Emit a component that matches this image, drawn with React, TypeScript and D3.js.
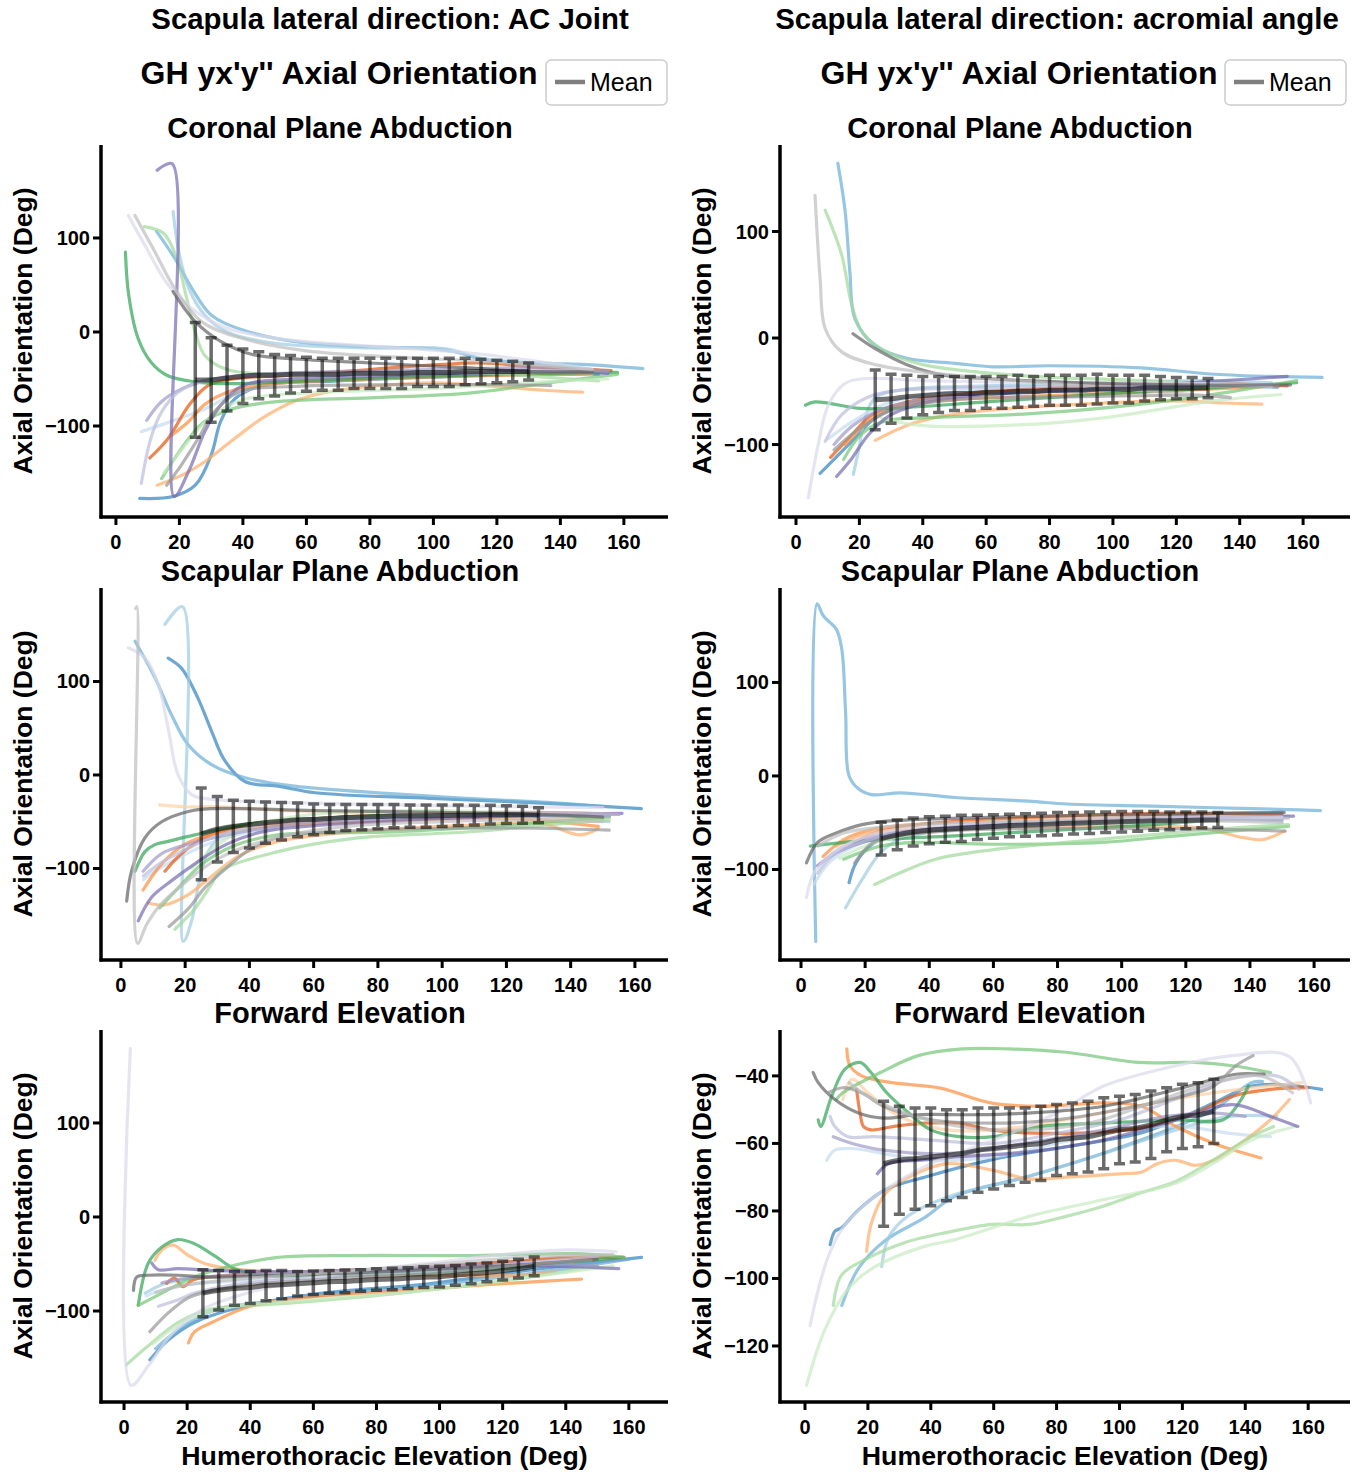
import React from 'react';
import * as d3 from 'd3';

type Pt = [number, number];
type Trace = { s: number; pts: Pt[] };

// tab20c, one colour per subject
const subjectColors = [
  '#3182bd', '#6baed6', '#9ecae1', '#c6dbef',
  '#e6550d', '#fd8d3c', '#fdae6b', '#fdd0a2',
  '#31a354', '#74c476', '#a1d99b', '#c7e9c0',
  '#756bb1', '#9e9ac8', '#bcbddc', '#dadaeb',
  '#636363', '#969696', '#bdbdbd', '#d9d9d9',
];

const meanAngles = [25, 30, 35, 40, 45, 50, 55, 60, 65, 70, 75, 80, 85, 90, 95, 100, 105, 110, 115, 120, 125, 130];
const xTicks = [0, 20, 40, 60, 80, 100, 120, 140, 160];
const yTicksWide = [-100, 0, 100];
const yTicksNarrow = [-120, -100, -80, -60, -40];

// ---- Coronal plane abduction, AC joint
const coronalAcTraces: Trace[] = [
  { s: 0, pts: [[7.5, -177], [18, -175], [25, -163], [30, -131], [33, -95], [37.5, -71], [46, -57], [70, -52], [100, -48], [130, -45], [152, -45]] },
  { s: 1, pts: [[12.8, 107], [18.6, 78], [24, 46], [30, 18], [40, 2], [56, -10], [75, -15], [100, -18], [108, -22], [115, -29], [135, -33], [150, -35], [166, -39]] },
  { s: 2, pts: [[18, 128], [20, 82], [23, 46], [28, 18], [35, 0], [50, -12], [80, -17], [104, -18], [115, -28], [140, -36], [156, -42]] },
  { s: 3, pts: [[8, -106], [15, -98], [20, -92], [28, -82], [36, -68], [50, -55], [80, -50], [120, -44], [150, -45]] },
  { s: 4, pts: [[10.7, -134], [16.5, -113], [23, -78], [29, -57], [37, -50], [55, -46], [80, -40], [100, -35], [115, -33], [135, -38], [156, -41]] },
  { s: 5, pts: [[17.5, -110], [23, -95], [28, -77], [36, -63], [50, -55], [80, -50], [110, -47], [150, -44]] },
  { s: 6, pts: [[13, -163], [21, -152], [28, -138], [37.5, -113], [46, -92], [56, -74], [65, -65], [80, -58], [100, -54], [120, -58], [135, -62], [147, -64]] },
  { s: 8, pts: [[3, 85], [4, 40], [7, -7], [11, -32], [16, -46], [25, -53], [35, -55], [60, -52], [90, -48], [120, -45], [158, -43]] },
  { s: 9, pts: [[14.4, -156], [18.6, -134], [23, -113], [28, -95], [37.5, -81], [51, -74], [80, -70], [111, -65], [134, -55], [158, -45]] },
  { s: 10, pts: [[9, 112], [15, 105], [19, 80], [22, 40], [25, 0], [28, -25], [35, -40], [50, -45], [80, -44], [110, -43], [135, -48], [152, -52]] },
  { s: 11, pts: [[15, -150], [22, -120], [30, -90], [40, -72], [60, -65], [100, -60], [140, -52], [155, -50]] },
  { s: 12, pts: [[13, 172], [17.7, 179], [18.3, -175], [22.8, -149], [28, -106], [33, -78], [40, -57], [55, -50], [80, -47], [110, -44], [140, -42], [155, -44]] },
  { s: 13, pts: [[9.7, -94], [14.4, -74], [21, -60], [29, -51], [40, -46], [70, -42], [100, -40], [130, -38], [155, -42]] },
  { s: 14, pts: [[8, -161], [11, -113], [14.4, -85], [19.6, -64], [28, -52], [40, -47], [70, -45], [110, -43], [150, -40]] },
  { s: 15, pts: [[3.9, 124], [9, 93], [16.5, 50], [25, 22], [35, 4], [51, -7], [80, -15], [110, -22], [130, -30], [150, -40]] },
  { s: 16, pts: [[18, 43], [25, 11], [33, -10], [43, -24], [58, -29], [80, -33], [110, -38], [130, -42], [150, -42]] },
  { s: 17, pts: [[16, -163], [20.7, -141], [26, -113], [31, -85], [38.5, -64], [55, -58], [90, -56], [120, -56], [137, -57]] },
  { s: 18, pts: [[6, 124], [12.3, 85], [18.6, 46], [27, 11], [40, -7], [60, -20], [90, -27], [120, -32], [150, -40]] },
];
const coronalAcMean = [-51, -51, -49, -47, -46, -46, -45, -45, -45, -45, -44, -44, -44, -44, -43, -43, -43, -42, -42, -42, -42, -42];
const coronalAcSd = [61, 45, 35, 29, 25, 22, 20, 18, 17, 17, 16, 16, 16, 16, 15, 15, 15, 14, 13, 12, 11, 9];

// ---- Coronal plane abduction, acromial angle
const coronalAaTraces: Trace[] = [
  { s: 0, pts: [[7.6, -127], [12.3, -113], [18.6, -94], [25, -75], [35, -62], [50, -55], [80, -50], [110, -47], [135, -45], [152, -46]] },
  { s: 1, pts: [[13.2, 164], [15.5, 119], [17, 62], [18.6, 18], [25, -7], [35, -19], [51, -24], [62, -27], [80, -26], [109, -28], [132, -34], [166, -37]] },
  { s: 2, pts: [[18.1, -128], [19.7, -106], [21.8, -75], [25, -56], [35, -48], [60, -45], [100, -42], [130, -40], [150, -42]] },
  { s: 3, pts: [[10, -95], [18, -78], [28, -62], [45, -52], [80, -48], [120, -45], [150, -46]] },
  { s: 4, pts: [[10.9, -112], [16.7, -94], [24, -72], [35, -60], [55, -52], [80, -47], [105, -43], [125, -42], [155, -45]] },
  { s: 5, pts: [[15.5, -100], [20.7, -84], [28, -68], [40, -60], [70, -55], [100, -52], [130, -48], [153, -45]] },
  { s: 6, pts: [[25, -96], [35, -82], [45, -74], [60, -68], [90, -62], [120, -59], [135, -61], [147, -62]] },
  { s: 8, pts: [[3, -63], [6, -60], [20, -66], [30, -66], [60, -60], [100, -52], [130, -47], [158, -42]] },
  { s: 9, pts: [[15, -114], [20.7, -90], [28, -78], [40, -75], [74, -71], [109, -62], [138, -50], [158, -40]] },
  { s: 10, pts: [[9.2, 120], [14.4, 78], [17.6, 31], [21, 5], [28, -12], [40, -25], [70, -35], [110, -40], [150, -45]] },
  { s: 11, pts: [[27, -75], [39, -82], [74, -81], [97, -75], [132, -59], [153, -53]] },
  { s: 12, pts: [[12.8, -130], [17.6, -113], [22.8, -91], [30, -72], [45, -58], [80, -50], [110, -45], [135, -40], [155, -36]] },
  { s: 13, pts: [[12, -100], [18, -82], [28, -66], [45, -56], [80, -50], [120, -46], [150, -45]] },
  { s: 14, pts: [[9.2, -97], [14.4, -72], [22.3, -56], [30, -50], [50, -47], [90, -45], [130, -43], [152, -44]] },
  { s: 15, pts: [[3.9, -150], [7, -100], [10.2, -63], [15.5, -42.5], [22, -38], [40, -40], [80, -42], [120, -42], [150, -45]] },
  { s: 16, pts: [[18, 4], [25, -10], [35, -25], [47, -35], [60, -38], [90, -42], [120, -44], [156, -44]] },
  { s: 17, pts: [[12, -105], [20, -85], [30, -68], [50, -58], [90, -55], [130, -54], [137, -56]] },
  { s: 18, pts: [[6, 134], [7.6, 56], [9.2, 9], [14.4, -13], [25, -25], [40, -32], [70, -40], [100, -47], [137, -56]] },
];
const coronalAaMean = [-58, -57, -55, -54, -53, -52, -52, -51, -51, -50, -50, -49, -49, -49, -48, -48, -48, -47, -47, -47, -47, -47];
const coronalAaSd = [28, 23, 20, 18, 17, 16, 16, 15, 15, 15, 14, 14, 14, 14, 14, 13, 13, 12, 11, 10, 10, 9];

// ---- Scapular plane abduction, AC joint
const scapularAcTraces: Trace[] = [
  { s: 0, pts: [[14.7, 125], [18.9, 114], [24, 82], [28.2, 47], [32.4, 15], [38.6, -7], [49, -12], [60.5, -19], [96, -25], [131, -30], [162, -36]] },
  { s: 1, pts: [[4.4, 143], [10.6, 104], [15.8, 64], [21, 32], [28.2, 11], [38.6, -3], [54, -12], [84, -20], [107.5, -25], [131, -29], [152, -34]] },
  { s: 2, pts: [[13.7, 161], [19.2, 180], [19.4, -178], [22, -156], [24, -120], [27, -83], [33, -60], [50, -50], [90, -46], [130, -45], [152, -50]] },
  { s: 3, pts: [[7, -112], [12, -100], [20, -85], [30, -70], [50, -55], [90, -47], [130, -43], [150, -45]] },
  { s: 4, pts: [[13.7, -103], [18.9, -84], [26, -67], [36, -56], [60, -47], [90, -42], [120, -40], [155, -42]] },
  { s: 5, pts: [[6.9, -123], [12.7, -95], [20, -74], [28, -64], [45, -55], [80, -50], [120, -46], [148.6, -55]] },
  { s: 6, pts: [[8.5, -137], [13.7, -139], [21, -128], [26.6, -113], [37, -86], [49, -71], [72, -61], [107.5, -54], [131, -52], [143, -64], [148.6, -57]] },
  { s: 7, pts: [[12, -32], [20, -34], [30, -34], [50, -38], [80, -42], [120, -45], [150, -48]] },
  { s: 8, pts: [[4.4, -103], [7.5, -82], [10.6, -74.5], [14.7, -71], [23, -64], [40, -52], [70, -45], [110, -42], [152, -45]] },
  { s: 9, pts: [[12.1, -142], [17.8, -121], [25, -96], [35, -76], [48.8, -64], [84, -61], [119, -54], [152, -45]] },
  { s: 10, pts: [[16.8, -165], [23, -143], [28, -118], [31, -103], [48.8, -82], [72, -68], [107.5, -61], [131, -54], [152, -48]] },
  { s: 11, pts: [[22, -100], [30, -75], [40, -55], [60, -42], [90, -38], [120, -40], [152, -45]] },
  { s: 12, pts: [[5.4, -156], [9.5, -131], [15.8, -113], [23, -95], [33, -74], [45, -60], [80, -50], [120, -44], [156, -41]] },
  { s: 13, pts: [[6.9, -103], [12.7, -84], [21, -74], [33, -64], [55, -52], [90, -46], [130, -43], [152, -44]] },
  { s: 14, pts: [[7, -108], [12, -95], [20, -80], [30, -65], [50, -50], [90, -43], [130, -40], [155, -42]] },
  { s: 15, pts: [[2.3, 136], [7.5, 125], [11.6, 97], [14.7, 50], [17.8, 0], [22, -21], [28, -26], [60, -30], [100, -33], [150, -35]] },
  { s: 16, pts: [[1.8, -135], [3.3, -103], [7.5, -67], [12.7, -50], [21, -39], [28, -36], [60, -38], [100, -40], [130, -42], [150, -45]] },
  { s: 17, pts: [[15, -162], [21, -143], [26, -121], [33, -99], [40, -80], [50, -66], [70, -60], [100, -57], [130, -57], [152, -59]] },
  { s: 18, pts: [[4.6, 178], [5, 180], [5.2, -180], [8, -160], [12, -140], [20, -115], [30, -90], [45, -70], [70, -55], [100, -50], [130, -48], [150, -50]] },
];
const scapularAcMean = [-63, -58, -55, -53, -51, -49.5, -48, -47.5, -46.5, -45.5, -45, -44.5, -44, -44, -44, -43.5, -43, -43, -42.5, -42.5, -42.5, -43];
const scapularAcSd = [49, 35, 28, 25, 22, 20, 18, 16.5, 15, 14, 13.5, 13, 12.5, 12, 12, 11.5, 11, 10.5, 10, 9.5, 9, 8];

// ---- Scapular plane abduction, acromial angle
const scapularAaTraces: Trace[] = [
  { s: 0, pts: [[15, -114], [16.7, -96], [20.2, -79], [27, -64], [40, -57], [70, -50], [100, -45], [130, -40], [150, -40]] },
  { s: 1, pts: [[4.6, -177], [5, 184], [7, 171], [11, 157], [12.7, 136], [13.9, 68], [15, 0], [18, -14], [22, -20], [31, -18], [48, -23], [71, -27], [83, -30], [106, -32], [129, -34], [152, -36], [162, -37]] },
  { s: 2, pts: [[13.9, -141], [19, -111], [24.8, -82], [30.6, -68], [45, -58], [80, -50], [120, -46], [150, -45]] },
  { s: 3, pts: [[4, -116], [8.7, -93], [15, -78], [25, -65], [45, -55], [80, -50], [120, -47], [150, -47]] },
  { s: 4, pts: [[16.7, -71], [22, -62], [30, -55], [50, -48], [80, -43], [110, -40], [130, -40], [150, -42]] },
  { s: 5, pts: [[6.9, -86], [13.3, -68], [22.5, -57], [35, -52], [60, -48], [100, -45], [130, -44], [152, -44]] },
  { s: 6, pts: [[11, -75], [20, -62], [35, -57], [60, -55], [100, -54], [125, -56], [138, -66], [144, -68], [150.7, -59]] },
  { s: 8, pts: [[2.9, -75], [13.3, -71], [24.8, -68], [48, -64], [80, -58], [110, -52], [130, -47], [150, -45]] },
  { s: 9, pts: [[13.3, -89], [24.8, -75], [36, -71], [59.5, -73], [94, -71], [117, -64], [152, -54]] },
  { s: 10, pts: [[23, -116], [30.6, -104], [42, -89], [59.5, -79], [82.6, -71], [105.7, -64], [128.8, -57], [152, -52]] },
  { s: 11, pts: [[12, -88], [20, -75], [35, -62], [60, -55], [100, -50], [130, -47], [152, -43]] },
  { s: 12, pts: [[5.2, -96], [11, -82], [19, -71], [30, -62], [55, -54], [90, -48], [125, -44], [153.6, -43]] },
  { s: 13, pts: [[6.4, -93], [12, -78], [20, -67], [35, -58], [60, -52], [100, -48], [130, -46], [150, -48]] },
  { s: 14, pts: [[5.2, -104], [10, -85], [18, -72], [30, -62], [55, -55], [90, -50], [130, -47], [152, -45]] },
  { s: 15, pts: [[1.7, -130], [4, -104], [8.7, -86], [15.6, -71], [25, -60], [45, -52], [80, -47], [120, -44], [150, -44]] },
  { s: 16, pts: [[1.7, -93], [5.2, -71], [11, -61], [19, -52], [28, -48], [50, -45], [90, -42], [130, -40], [150.7, -39]] },
  { s: 17, pts: [[16.7, -93], [22.5, -71], [30.6, -64], [50, -58], [90, -56], [130, -57], [151, -59]] },
  { s: 18, pts: [[5.2, -75], [13.3, -61], [25, -55], [50, -50], [90, -48], [130, -48], [150, -50]] },
];
const scapularAaMean = [-67, -63, -60, -58, -57, -56, -55, -54, -53, -52.5, -52, -51, -50.5, -50, -49.5, -49, -48.5, -48, -48, -47.5, -47, -47];
const scapularAaSd = [17.5, 16, 15, 14.5, 14, 14, 13, 12.5, 12, 12, 12, 12, 11.5, 11.5, 11, 11, 10.5, 10, 9.5, 9, 8.5, 8];

// ---- Forward elevation, AC joint
const forwardAcTraces: Trace[] = [
  { s: 0, pts: [[8.2, -152], [14, -131], [22.4, -112], [36.8, -96], [60.7, -82], [96.5, -71], [132, -55], [164, -43]] },
  { s: 1, pts: [[10, -140], [18, -118], [28, -100], [50, -88], [80, -78], [110, -68], [140, -55], [160, -45]] },
  { s: 2, pts: [[6.7, -81], [12, -72], [20, -66], [40, -62], [60, -60], [90, -55], [120, -48], [150, -43]] },
  { s: 3, pts: [[7, -84], [12, -78], [20, -72], [35, -68], [60, -63], [90, -57], [120, -50], [150, -43]] },
  { s: 4, pts: [[13.5, -70.6], [16, -65], [18.6, -74], [21.8, -67], [32.6, -62], [60, -58], [90, -54], [120, -48], [140, -43], [158.5, -43]] },
  { s: 5, pts: [[20.4, -134], [22.4, -122], [28, -112], [40, -95], [60, -85], [90, -78], [115, -72], [135, -68], [145, -66]] },
  { s: 6, pts: [[9.8, -46], [12, -35], [15.6, -30], [20, -40], [26, -50], [40, -57], [70, -62], [100, -62], [125, -62], [136.5, -58]] },
  { s: 8, pts: [[4.5, -94], [7.7, -49], [12, -32], [17, -24], [22, -28], [29, -42], [35, -55], [44, -62], [60, -62], [90, -60], [120, -55], [145, -47], [158, -43]] },
  { s: 9, pts: [[4.5, -94], [12, -81], [22, -64], [33, -53], [48.7, -43], [72.6, -41], [108, -41], [144, -39], [158.5, -43]] },
  { s: 10, pts: [[0.8, -157], [7.7, -137], [17.2, -112], [27.6, -98], [48.7, -92.5], [84.5, -82], [120, -68], [150, -52]] },
  { s: 11, pts: [[9, -135], [20, -110], [35, -95], [60, -88], [90, -80], [120, -68], [155, -52]] },
  { s: 12, pts: [[8.8, -49], [10.9, -56], [17, -55], [30, -57], [60, -58], [100, -55], [130, -52], [156.8, -55]] },
  { s: 13, pts: [[12, -70], [20, -65], [35, -62], [60, -58], [90, -54], [120, -50], [150, -52]] },
  { s: 14, pts: [[10.9, -95], [17.2, -88], [22.4, -81], [35, -72], [60, -64], [100, -57], [130, -48], [150, -42]] },
  { s: 15, pts: [[2, 179], [2.2, -179], [8, -157], [15, -125], [25, -98], [40, -80], [60, -65], [80, -55], [100, -48], [120, -40], [140, -35], [156, -37]] },
  { s: 16, pts: [[3, -78], [4, -64], [7.7, -62], [17, -62], [27.6, -64], [50, -62], [90, -57], [120, -52], [150, -45]] },
  { s: 17, pts: [[8.2, -122], [14, -102], [20.3, -86], [24.5, -81], [40, -72], [70, -65], [100, -60], [130, -50], [148, -46]] },
  { s: 18, pts: [[10, -80], [20, -72], [40, -65], [70, -58], [100, -50], [130, -42], [155, -40]] },
];
const forwardAcMean = [-81, -78, -76, -75, -73, -72, -71, -70, -69, -68.5, -67.5, -66.5, -66, -65, -64, -63.5, -62, -60.5, -59, -57, -55, -52.5];
const forwardAcSd = [25, 21, 18, 17, 16, 15, 13, 12.5, 12, 12, 11.5, 11.5, 11.5, 11, 11, 11, 10.5, 10.5, 10, 10, 10, 10];

// ---- Forward elevation, acromial angle
const forwardAaTraces: Trace[] = [
  { s: 0, pts: [[8, -90], [9.5, -86], [11.6, -85], [17, -79.7], [25.4, -73.8], [38, -70], [59.5, -64.8], [83, -61], [106.6, -57], [118, -53], [130, -48], [142, -43], [153.7, -42.7], [164.3, -44]] },
  { s: 1, pts: [[11.7, -108], [17, -97], [25.4, -88.8], [38, -82], [47.7, -75.7], [71, -69.8], [94.8, -62.9], [118, -55], [130, -50], [142, -42], [145.5, -41.7]] },
  { s: 2, pts: [[24.4, -96.5], [26.5, -88], [32, -82], [45, -76], [70, -70], [95, -63], [118, -56], [135, -52], [150, -52]] },
  { s: 3, pts: [[6.9, -65], [9.5, -62], [14.8, -61.5], [25, -63], [40, -65], [60, -64], [80, -60], [100, -56], [120, -55], [135, -57], [148, -58]] },
  { s: 4, pts: [[16.4, -44], [17.5, -51], [18.6, -55], [21, -56], [28, -55], [38, -54], [49, -54], [59, -56], [83, -57], [106, -55.5], [124, -51], [136, -46], [148, -44], [160, -43.5]] },
  { s: 5, pts: [[13.3, -32], [14.3, -37], [18, -40], [27.6, -42], [43, -43.6], [59, -48], [75, -49], [95, -48], [107, -49], [118, -55], [130, -60], [140, -63], [145, -64.3]] },
  { s: 6, pts: [[19.6, -92], [21, -84], [25.4, -75], [33, -70], [45, -66], [60, -68], [71, -70.5], [83, -70], [100, -69], [107, -68.5], [112, -66], [118, -65], [124, -66.5], [130, -65], [137, -61], [148, -53], [154, -47]] },
  { s: 7, pts: [[12, -47], [15, -41], [20, -45], [30, -52], [45, -56], [70, -55], [100, -50], [130, -45], [158, -42]] },
  { s: 8, pts: [[4.2, -53], [5, -55], [8.5, -46], [12.7, -38], [17.5, -36], [21, -39], [26, -45], [33, -51], [40, -56], [49, -58], [60, -58], [75, -55], [95, -54], [118, -53], [133, -53], [138, -48], [141, -43]] },
  { s: 9, pts: [[10, -47], [12, -45], [24, -39], [36, -34], [50, -32], [65, -32], [83, -33], [106, -36], [124, -36], [136, -37], [148, -39]] },
  { s: 10, pts: [[9, -108], [11.6, -99], [20, -94], [33, -89], [43.5, -86.7], [59.5, -84], [71.3, -84], [83, -81.6], [94.8, -78.6], [106.6, -74.7], [118, -71.2], [130, -64.8], [142, -58], [149, -55]] },
  { s: 11, pts: [[0.5, -131.6], [6.4, -115], [13.8, -103], [22.3, -96.5], [38, -90.5], [47.7, -88.5], [71.3, -81.6], [94.8, -76.7], [118, -71.7], [130, -65.8], [142, -59], [156, -55]] },
  { s: 12, pts: [[23, -69], [26.5, -66], [36, -65], [48, -64], [71, -62.5], [95, -59], [118, -53], [136, -48.5], [148, -52], [156.7, -55]] },
  { s: 13, pts: [[9, -58], [15, -60], [25, -62], [45, -63], [70, -60], [95, -56], [115, -52], [130, -51], [140, -52]] },
  { s: 14, pts: [[8, -52], [9.5, -55], [13.7, -58], [22, -58], [40, -59], [60, -60], [80, -57], [100, -53], [120, -46], [135, -41], [150, -40], [157, -44]] },
  { s: 15, pts: [[1.6, -114], [4.3, -103], [7.4, -93.5], [11.6, -85.6], [18, -79], [25, -74], [40, -66], [60, -59], [80, -51], [95, -43], [118, -37], [136, -34], [154, -34.3], [160.8, -48]] },
  { s: 16, pts: [[2.6, -39], [4.2, -42], [9.5, -47], [17, -51], [25, -52.5], [36, -51.5], [54, -51.5], [71, -51], [95, -49], [118, -44], [130, -41], [137, -39.5], [146, -39.5]] },
  { s: 17, pts: [[7.4, -45], [12, -43.5], [18, -45], [25, -49], [40, -53], [60, -54], [80, -53], [100, -50], [120, -46], [130, -43], [137, -37], [142.5, -34]] },
  { s: 18, pts: [[14, -42], [20, -46], [35, -52], [60, -56], [90, -54], [110, -48], [130, -42], [145, -40], [155, -45]] },
];
const forwardAaMean = [-66, -65, -64.5, -64, -63.5, -63, -62, -61.5, -61, -60.5, -60, -59, -58.5, -58, -57, -56, -55.5, -54.5, -53, -52, -51.5, -50.5];
const forwardAaSd = [18.5, 16, 15, 14.5, 13.5, 13, 12.5, 12, 11.5, 11, 11, 10.5, 10.5, 10.5, 10.5, 10, 10, 10, 9.5, 9.5, 9.5, 9.5];

// layout
const colLeft = [101, 780];
const colRight = [668, 1350];
const rowTop = [145, 588, 1030];
const rowBottom = [517, 960, 1402];
const subTitleX = [340, 1020];
const FONT = "'Liberation Sans', Arial, Helvetica, sans-serif";

const panels = [
  { col: 0, row: 0, title: 'Coronal Plane Abduction', traces: coronalAcTraces, mean: coronalAcMean, sd: coronalAcSd, xDomain: [-4.7, 173.9], yDomain: [-196.8, 198.9], yTicks: yTicksWide },
  { col: 1, row: 0, title: 'Coronal Plane Abduction', traces: coronalAaTraces, mean: coronalAaMean, sd: coronalAaSd, xDomain: [-5.05, 174.8], yDomain: [-168, 181.2], yTicks: yTicksWide },
  { col: 0, row: 1, title: 'Scapular Plane Abduction', traces: scapularAcTraces, mean: scapularAcMean, sd: scapularAcSd, xDomain: [-6.2, 170.3], yDomain: [-197.9, 200], yTicks: yTicksWide },
  { col: 1, row: 1, title: 'Scapular Plane Abduction', traces: scapularAaTraces, mean: scapularAaMean, sd: scapularAaSd, xDomain: [-6.55, 171.2], yDomain: [-196.8, 201], yTicks: yTicksWide },
  { col: 0, row: 2, title: 'Forward Elevation', traces: forwardAcTraces, mean: forwardAcMean, sd: forwardAcSd, xDomain: [-7.3, 172.4], yDomain: [-196.8, 198.9], yTicks: yTicksWide },
  { col: 1, row: 2, title: 'Forward Elevation', traces: forwardAaTraces, mean: forwardAaMean, sd: forwardAaSd, xDomain: [-7.95, 173.3], yDomain: [-136.6, -26.4], yTicks: yTicksNarrow },
];

const fmt = d3.format('d');

function Panel({ p }: { p: any }) {
  const left = colLeft[p.col];
  const right = colRight[p.col];
  const top = rowTop[p.row];
  const bottom = rowBottom[p.row];
  const x = d3.scaleLinear().domain(p.xDomain).range([left, right]);
  const y = d3.scaleLinear().domain(p.yDomain).range([bottom, top]);
  const line = d3.line<Pt>().x(d => x(d[0])).y(d => y(d[1])).curve(d3.curveCatmullRom.alpha(0.5));
  const meanLine = d3.line<number>().x((_, i) => x(meanAngles[i])).y(d => y(d)).curve(d3.curveMonotoneX);
  const cx = (left + right) / 2;

  return (
    <g>
      <text x={subTitleX[p.col]} y={top - 7} textAnchor="middle" fontSize={29} fontWeight="bold" fontFamily={FONT}>{p.title}</text>
      {p.traces.map((t: Trace, i: number) => (
        <path key={i} d={line(t.pts) || ''} fill="none" stroke={subjectColors[t.s]} strokeWidth={3.2} strokeOpacity={0.7} strokeLinecap="round" />
      ))}
      <path d={meanLine(p.mean) || ''} fill="none" stroke="#000" strokeOpacity={0.55} strokeWidth={5} />
      {p.mean.map((m: number, i: number) => {
        const xx = x(meanAngles[i]);
        const y1 = y(m + p.sd[i]);
        const y2 = y(m - p.sd[i]);
        return (
          <path key={i} d={`M${xx},${y1}V${y2}M${xx - 5.5},${y1}H${xx + 5.5}M${xx - 5.5},${y2}H${xx + 5.5}`}
            fill="none" stroke="#000" strokeOpacity={0.58} strokeWidth={3.5} />
        );
      })}
      <line x1={left} x2={left} y1={top} y2={bottom + 1.5} stroke="#000" strokeWidth={3.5} />
      <line x1={left - 1.5} x2={right} y1={bottom} y2={bottom} stroke="#000" strokeWidth={3.5} />
      {xTicks.map(t => (
        <g key={t}>
          <line x1={x(t)} x2={x(t)} y1={bottom} y2={bottom + 8} stroke="#000" strokeWidth={3} />
          <text x={x(t)} y={bottom + 32} textAnchor="middle" fontSize={20} fontWeight="bold" fontFamily={FONT}>{fmt(t)}</text>
        </g>
      ))}
      {p.yTicks.map((t: number) => (
        <g key={t}>
          <line x1={left - 8} x2={left} y1={y(t)} y2={y(t)} stroke="#000" strokeWidth={3} />
          <text x={left - 11} y={y(t) + 7} textAnchor="end" fontSize={20} fontWeight="bold" fontFamily={FONT}>{fmt(t)}</text>
        </g>
      ))}
      <text transform={`translate(${left - 69},${(top + bottom) / 2}) rotate(-90)`} textAnchor="middle" fontSize={26.5} fontWeight="bold" fontFamily={FONT}>Axial Orientation (Deg)</text>
      {p.row === 2 && (
        <text x={cx} y={bottom + 63} textAnchor="middle" fontSize={26.7} fontWeight="bold" fontFamily={FONT}>Humerothoracic Elevation (Deg)</text>
      )}
    </g>
  );
}

const columnTitles = ['Scapula lateral direction: AC Joint', 'Scapula lateral direction: acromial angle'];
const columnTitleX = [390, 1057];
const ghTitleX = [339, 1019];
const legendX = [546, 1225];

export default function App() {
  return (
    <svg width={1353} height={1472} style={{ position: 'absolute', left: 0, top: 0, background: '#fff' }}>
      <rect width={1353} height={1472} fill="#fff" />
      {columnTitles.map((t, i) => (
        <g key={t}>
          <text x={columnTitleX[i]} y={29} textAnchor="middle" fontSize={29.4} fontWeight="bold" fontFamily={FONT}>{t}</text>
          <text x={ghTitleX[i]} y={84} textAnchor="middle" fontSize={32} fontWeight="bold" fontFamily={FONT}>GH yx'y'' Axial Orientation</text>
          <rect x={legendX[i]} y={60} width={121} height={45} rx={5} fill="#fff" stroke="#cccccc" strokeWidth={1.5} />
          <line x1={legendX[i] + 9} x2={legendX[i] + 39} y1={82} y2={82} stroke="#000" strokeOpacity={0.5} strokeWidth={4.5} />
          <text x={legendX[i] + 44} y={91} fontSize={25} fontFamily={FONT}>Mean</text>
        </g>
      ))}
      {panels.map((p, i) => <Panel key={i} p={p} />)}
    </svg>
  );
}
